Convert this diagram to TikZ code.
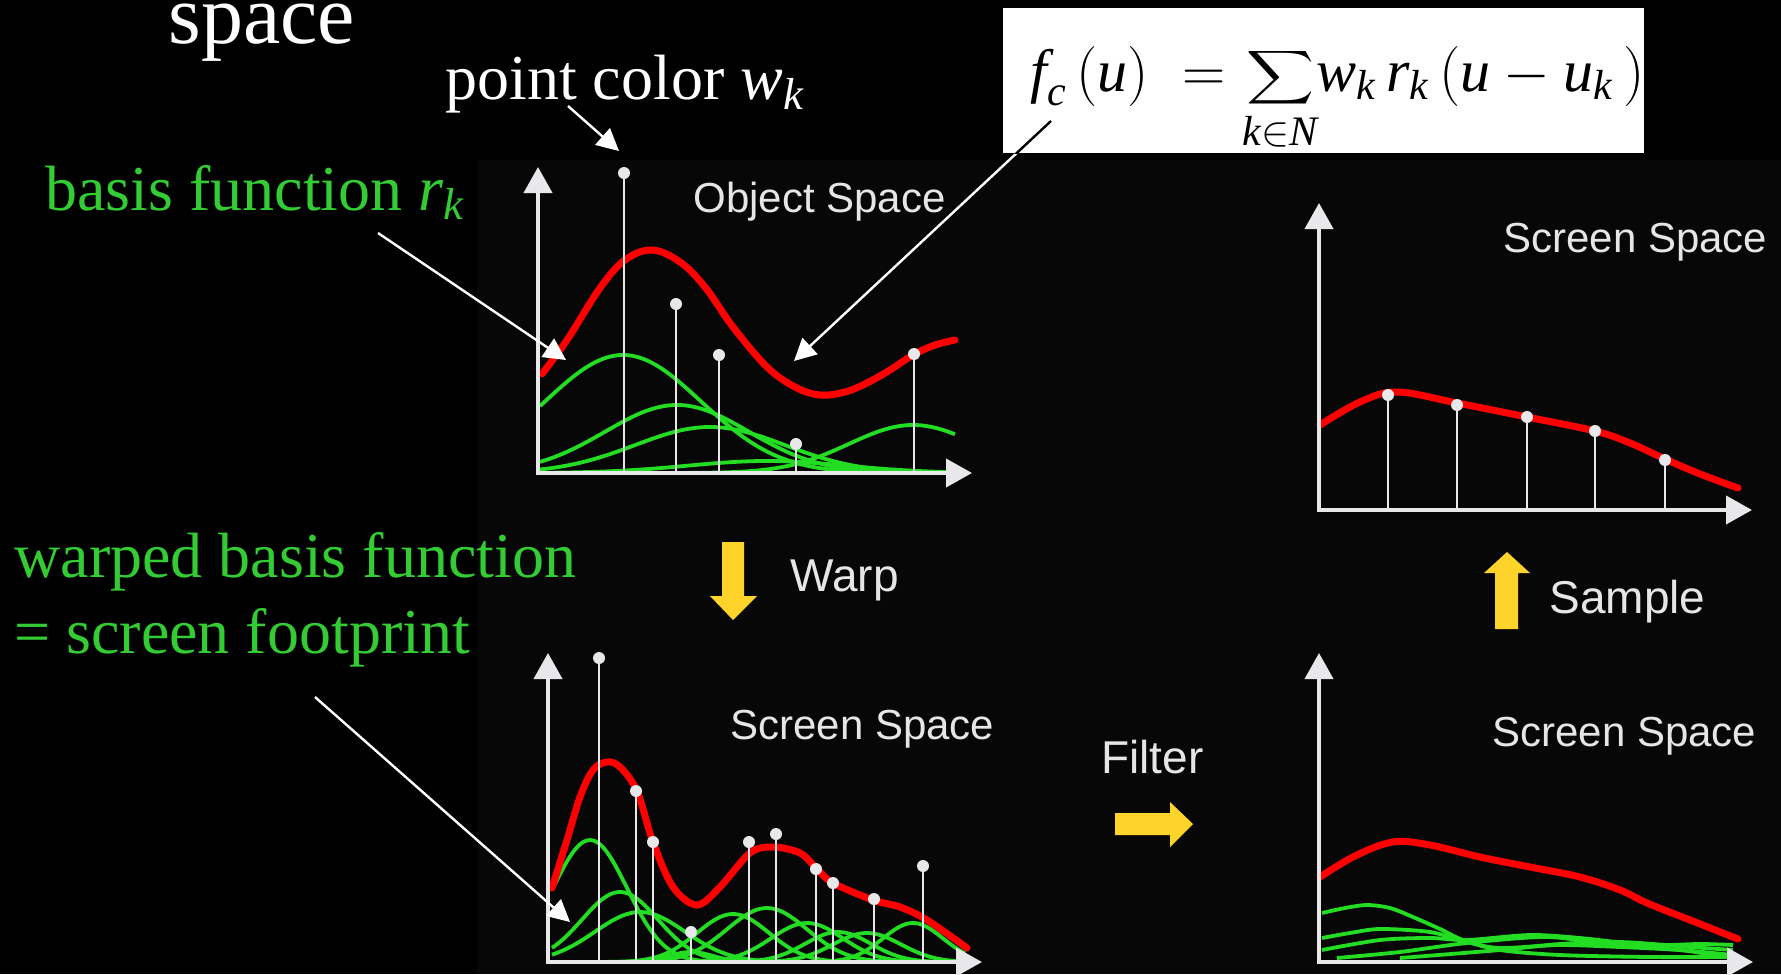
\RequirePackage{fix-cm}
\documentclass[tikz,border=0pt]{standalone}
\usepackage{amsmath}
\usepackage{graphicx}
\usepackage{fontspec}
\setmainfont{Liberation Serif}
\newfontfamily\labfont{Liberation Sans}
\usetikzlibrary{arrows.meta}
\definecolor{axisgray}{RGB}{232,232,234}
\definecolor{labgray}{RGB}{230,230,230}
\definecolor{curvered}{RGB}{255,0,0}
\definecolor{curvegreen}{RGB}{34,221,34}
\definecolor{textgreen}{RGB}{51,204,51}
\definecolor{yellowc}{RGB}{255,212,42}
\definecolor{panelbg}{RGB}{7,7,7}
\tikzset{
  axisline/.style={line width=2pt, draw=axisgray, -{Triangle[length=13pt,width=14pt]}},
  stemline/.style={line width=1pt, draw=axisgray},
  dotc/.style={fill=axisgray},
  redc/.style={line width=3.5pt, draw=curvered, line cap=round},
  grc/.style={line width=1.9pt, draw=curvegreen},
  warrow/.style={draw=white, line width=1.2pt, -{Triangle[length=11pt,width=11pt]}},
  lab/.style={font=\labfont\fontsize{21}{25}\selectfont, text=labgray, inner sep=0, anchor=base west},
  arrlab/.style={font=\labfont\fontsize{23}{27}\selectfont, text=labgray, inner sep=0, anchor=base west},
  bigtxt/.style={font=\fontsize{32}{38}\selectfont, inner sep=0, anchor=base west},
  formtxt/.style={font=\fontsize{30}{36}\selectfont, inner sep=0, text=black},
  yarrow/.style={fill=yellowc, draw=none},
  declare function={g(\x,\c,\s)=exp(-0.5*((\x-\c)/\s)*((\x-\c)/\s));}
}
\begin{document}
\begin{tikzpicture}[x=0.5pt,y=-0.5pt]
\fill[black] (0,0) rectangle (1781,974);
\useasboundingbox (0,0) rectangle (1781,974);
\fill[panelbg] (477,160) rectangle (1781,974);

% ---------- texts ----------
\node[bigtxt, text=white, font=\fontsize{42}{50}\selectfont] (title) at (168,44) {space};
\node[bigtxt, text=white] (pclab) at (445,100) {point color $\textit{w}_{\textit{k}}$};
\node[bigtxt, text=textgreen] (bflab) at (45,210) {basis function $\textit{r}_{\textit{k}}$};
\node[bigtxt, text=textgreen] (wb1) at (14,577) {warped basis function};
\node[bigtxt, text=textgreen] (wb2) at (14,653) {= screen footprint};

% ---------- formula box ----------
\fill[white] (1003,8) rectangle (1644,153);
\node[formtxt, anchor=base west] (fleft) at (1030,91)
 {$\textit{f}_{\textit{c}}\,(\textit{u})\;=$};
\node[formtxt, anchor=south west] (fsum) at (1246,108)
 {\resizebox{34pt}{30pt}{\raisebox{\depth}{$\displaystyle\sum$}}};
\node[formtxt, anchor=base, font=\fontsize{21}{25}\selectfont] (flim) at (1280,145)
 {$\textit{k}{\in}\textit{N}$};
\node[formtxt, anchor=base west] (fright) at (1316,91)
 {$\textit{w}_{\textit{k}}\,\textit{r}_{\textit{k}}\,(\textit{u}-\textit{u}_{\textit{k}}\,)$};

% ---------- top-left chart (Object Space) ----------
\node[lab] (objlab) at (693,212) {Object Space};
\foreach \c/\h/\s in {623/118/78, 677/68/72, 710/46/75, 767/12/80, 913/48/64}{
  \draw[grc] plot[domain=540:955, samples=90, smooth] (\x, {473-\h*g(\x,\c,\s)});
}
\draw[redc] plot[smooth, tension=0.6] coordinates {(542,374) (567,340) (600,288) (625,260) (652,250) (680,262) (705,287) (733,327) (767,367) (795,387) (820,395) (845,392) (867,383) (890,370) (913,355) (935,345) (955,340)};
\foreach \x/\y in {624/173, 676/304, 719/355, 796/444, 914/354}{
  \draw[stemline] (\x,473) -- (\x,\y);
  \fill[dotc] (\x,\y) circle[radius=3pt];
}
\draw[axisline] (538,475) -- (538,167);
\draw[axisline] (536,473) -- (972,473);

% ---------- warp arrow ----------
\fill[yarrow] (722,542) -- (744,542) -- (744,596) -- (757,596) -- (733,620) -- (710,596) -- (722,596) -- cycle;
\node[arrlab] (warplab) at (790,591) {Warp};

% ---------- bottom-left chart ----------
\node[lab] (bllab) at (730,739) {Screen Space};
\foreach \c/\h/\s in {590/122/37, 620/70/38, 640/50/45, 691/10/22, 733/48/36, 767/54/40, 807/39/36, 838/30/33, 867/29/34, 913/39/30}{
  \draw[grc] plot[domain=552:965, samples=120, smooth] (\x, {962-\h*g(\x,\c,\s)});
}
\draw[redc] plot[smooth, tension=0.55] coordinates {(552,888) (567,840) (580,797) (593,770) (607,762) (620,767) (637,791) (653,842) (673,887) (697,905) (720,887) (750,853) (773,847) (800,853) (817,869) (833,883) (873,900) (900,907) (927,920) (967,948)};
\foreach \x/\y in {599/658, 636/791, 653/842, 691/932, 749/842, 776/834, 816/869, 833/883, 874/899, 923/866}{
  \draw[stemline] (\x,962) -- (\x,\y);
  \fill[dotc] (\x,\y) circle[radius=3pt];
}
\draw[axisline] (548,964) -- (548,653);
\draw[axisline] (546,962) -- (982,962);

% ---------- filter arrow ----------
\node[arrlab] (filtlab) at (1101,773) {Filter};
\fill[yarrow] (1115,813) -- (1170,813) -- (1170,802) -- (1193,824) -- (1170,847) -- (1170,835) -- (1115,835) -- cycle;

% ---------- bottom-right chart ----------
\node[lab] (brlab) at (1492,746) {Screen Space};
\draw[grc] plot[smooth] coordinates {(1322,913) (1345,908) (1367,905) (1390,908) (1413,917) (1440,929) (1463,940) (1500,950) (1560,955) (1650,957) (1733,957)};
\draw[grc] plot[smooth] coordinates {(1322,938) (1350,933) (1380,929) (1430,932) (1467,942) (1500,948) (1560,945) (1620,947) (1680,950) (1733,955)};
\draw[grc] plot[smooth] coordinates {(1322,950) (1380,940) (1430,938) (1467,940) (1530,935) (1580,938) (1647,945) (1700,944) (1733,945)};
\draw[grc] plot[smooth] coordinates {(1337,958) (1400,952) (1467,943) (1547,937) (1613,945) (1680,950) (1713,955)};
\draw[grc] plot[smooth] coordinates {(1400,958) (1500,950) (1560,944) (1620,942) (1690,947) (1733,950)};
\draw[redc] plot[smooth, tension=0.6] coordinates {(1320,877) (1355,856) (1393,842) (1430,845) (1480,857) (1530,867) (1580,877) (1620,890) (1647,903) (1690,920) (1738,939)};
\draw[axisline] (1319,964) -- (1319,653);
\draw[axisline] (1317,962) -- (1753,962);

% ---------- sample arrow ----------
\fill[yarrow] (1495,629) -- (1518,629) -- (1518,573) -- (1530,573) -- (1507,552) -- (1484,573) -- (1495,573) -- cycle;
\node[arrlab] (samplab) at (1549,613) {Sample};

% ---------- top-right chart ----------
\node[lab] (trlab) at (1503,252) {Screen Space};
\draw[redc] plot[smooth, tension=0.6] coordinates {(1320,425) (1360,402) (1397,392) (1457,403) (1527,417) (1595,431) (1630,443) (1665,459) (1700,474) (1738,488)};
\foreach \x/\y in {1388/395, 1457/405, 1527/417, 1595/431, 1665/460}{
  \draw[stemline] (\x,510) -- (\x,\y);
  \fill[dotc] (\x,\y) circle[radius=3pt];
}
\draw[axisline] (1319,512) -- (1319,203);
\draw[axisline] (1317,510) -- (1752,510);

% ---------- pointer arrows (on top) ----------
\coordinate (pcstart) at (568,106);
\coordinate (pctip) at (619,151);
\draw[warrow] (pcstart) -- (pctip);
\coordinate (bfstart) at (378,233);
\coordinate (bftip) at (566,360);
\draw[warrow] (bfstart) -- (bftip);
\coordinate (fstart) at (1051,121);
\coordinate (ftip) at (794,361);
\draw[warrow] (fstart) -- (ftip);
\begin{scope}
 \clip (1003,8) rectangle (1644,153);
 \draw[black, line width=1.2pt] (fstart) -- (ftip);
\end{scope}
\coordinate (wbstart) at (315,697);
\coordinate (wbtip) at (570,922);
\draw[warrow] (wbstart) -- (wbtip);
\end{tikzpicture}
\end{document}
